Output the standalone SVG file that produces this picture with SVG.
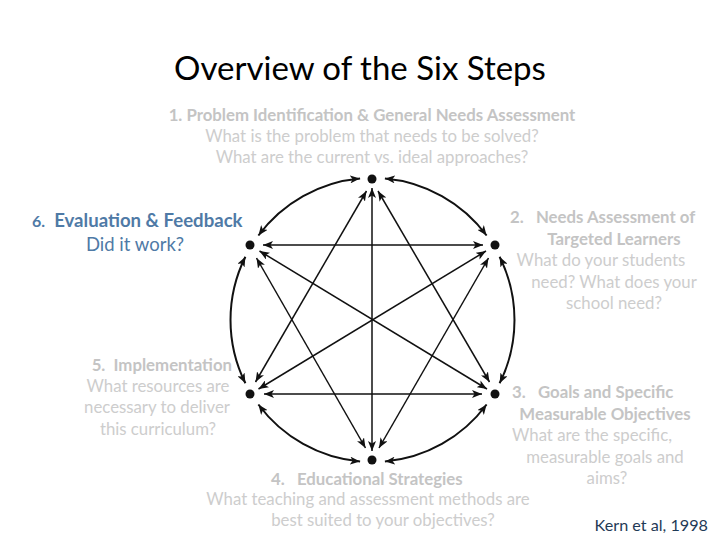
<svg xmlns="http://www.w3.org/2000/svg" width="720" height="540" viewBox="0 0 720 540">
<defs>
<marker id="ah" viewBox="0 0 10 8" refX="10" refY="4" markerWidth="10" markerHeight="8" markerUnits="userSpaceOnUse" orient="auto-start-reverse">
<path d="M0,0 L10,4 L0,8 L2.5,4 z" fill="#111"/>
</marker>
</defs>
<style>
text{font-family:Lato,"Liberation Sans",sans-serif;white-space:pre}
.g{fill:#cdcdcd;font-size:16.8px}
.gb{fill:#c4c4c4;font-size:16.8px;font-weight:bold}
.c{text-anchor:middle}
.dot{fill:#111}
.ln{stroke:#111;stroke-width:1.5;fill:none;marker-start:url(#ah);marker-end:url(#ah)}
.arc{stroke:#111;stroke-width:2;fill:none;marker-start:url(#ah);marker-end:url(#ah)}
</style>
<rect width="720" height="540" fill="#fff"/>
<text x="360" y="80" class="c" style="font-size:33px;fill:#000">Overview of the Six Steps</text>

<g id="connectors">
<path class="arc" d="M360.1,178.5 A142,142 0 0 0 258.4,235.5"/>
<path class="arc" d="M384.9,178.5 A142,142 0 0 1 486.6,235.5"/>
<path class="arc" d="M245.4,256.7 A142,142 0 0 0 245.4,383.3"/>
<path class="arc" d="M499.6,256.7 A142,142 0 0 1 499.6,383.3"/>
<path class="arc" d="M258.4,404.5 A142,142 0 0 0 360.1,461.5"/>
<path class="arc" d="M486.6,404.5 A142,142 0 0 1 384.9,461.5"/>
<line class="ln" x1="263" y1="245" x2="483" y2="245"/>
<line class="ln" x1="264" y1="394" x2="482" y2="394"/>
<line class="ln" x1="372" y1="188" x2="372" y2="451"/>
<line class="ln" x1="366.5" y1="191" x2="255.5" y2="382"/>
<line class="ln" x1="378" y1="191" x2="489.5" y2="382"/>
<line class="ln" x1="256.5" y1="258" x2="365.5" y2="448"/>
<line class="ln" x1="488.5" y1="258" x2="379" y2="448"/>
<line class="ln" x1="259.5" y1="251" x2="487" y2="389"/>
<line class="ln" x1="486" y1="251" x2="258.5" y2="389"/>
</g>

<g id="step1">
<circle class="dot" cx="372" cy="179" r="4.5"/>
<text x="372" y="121" class="gb c">1. Problem Identification &amp; General Needs Assessment</text>
<text x="372" y="142" class="g c">What is the problem that needs to be solved?</text>
<text x="372" y="163" class="g c">What are the current vs. ideal approaches?</text>
</g>
<g id="step2">
<circle class="dot" cx="495" cy="245" r="4.5"/>
<text x="510" y="223" class="gb">2.   Needs Assessment of</text>
<text x="614" y="245" class="gb c">Targeted Learners</text>
<text x="601" y="266" class="g c">What do your students</text>
<text x="614" y="288" class="g c">need? What does your</text>
<text x="614" y="309" class="g c">school need?</text>
</g>
<g id="step3">
<circle class="dot" cx="495" cy="394" r="4.5"/>
<text x="512" y="398" class="gb">3.   Goals and Specific</text>
<text x="605" y="420" class="gb c">Measurable Objectives</text>
<text x="592" y="441" class="g c">What are the specific,</text>
<text x="605" y="463" class="g c">measurable goals and</text>
<text x="607" y="484" class="g c">aims?</text>
</g>
<g id="step4">
<circle class="dot" cx="372" cy="460" r="4.5"/>
<text x="271" y="485" class="gb">4.   Educational Strategies</text>
<text x="368" y="505" class="g c">What teaching and assessment methods are</text>
<text x="383" y="526" class="g c">best suited to your objectives?</text>
</g>
<g id="step5">
<circle class="dot" cx="250" cy="394" r="4.5"/>
<text x="232" y="371" class="gb" text-anchor="end">5.  Implementation</text>
<text x="158" y="392" class="g c">What resources are</text>
<text x="157" y="413" class="g c">necessary to deliver</text>
<text x="158" y="435" class="g c">this curriculum?</text>
</g>
<g id="step6">
<circle class="dot" cx="250" cy="245" r="4.5"/>
<text x="32" y="227" style="fill:#4f7aa6;font-weight:bold;font-size:18.6px"><tspan style="font-size:16px">6.</tspan>  Evaluation &amp; Feedback</text>
<text x="135" y="251" class="c" style="fill:#4f7aa6;font-size:18.5px">Did it work?</text>
</g>
<text x="708" y="531" text-anchor="end" style="fill:#1f3a56;font-size:16.2px">Kern et al, 1998</text>
</svg>
